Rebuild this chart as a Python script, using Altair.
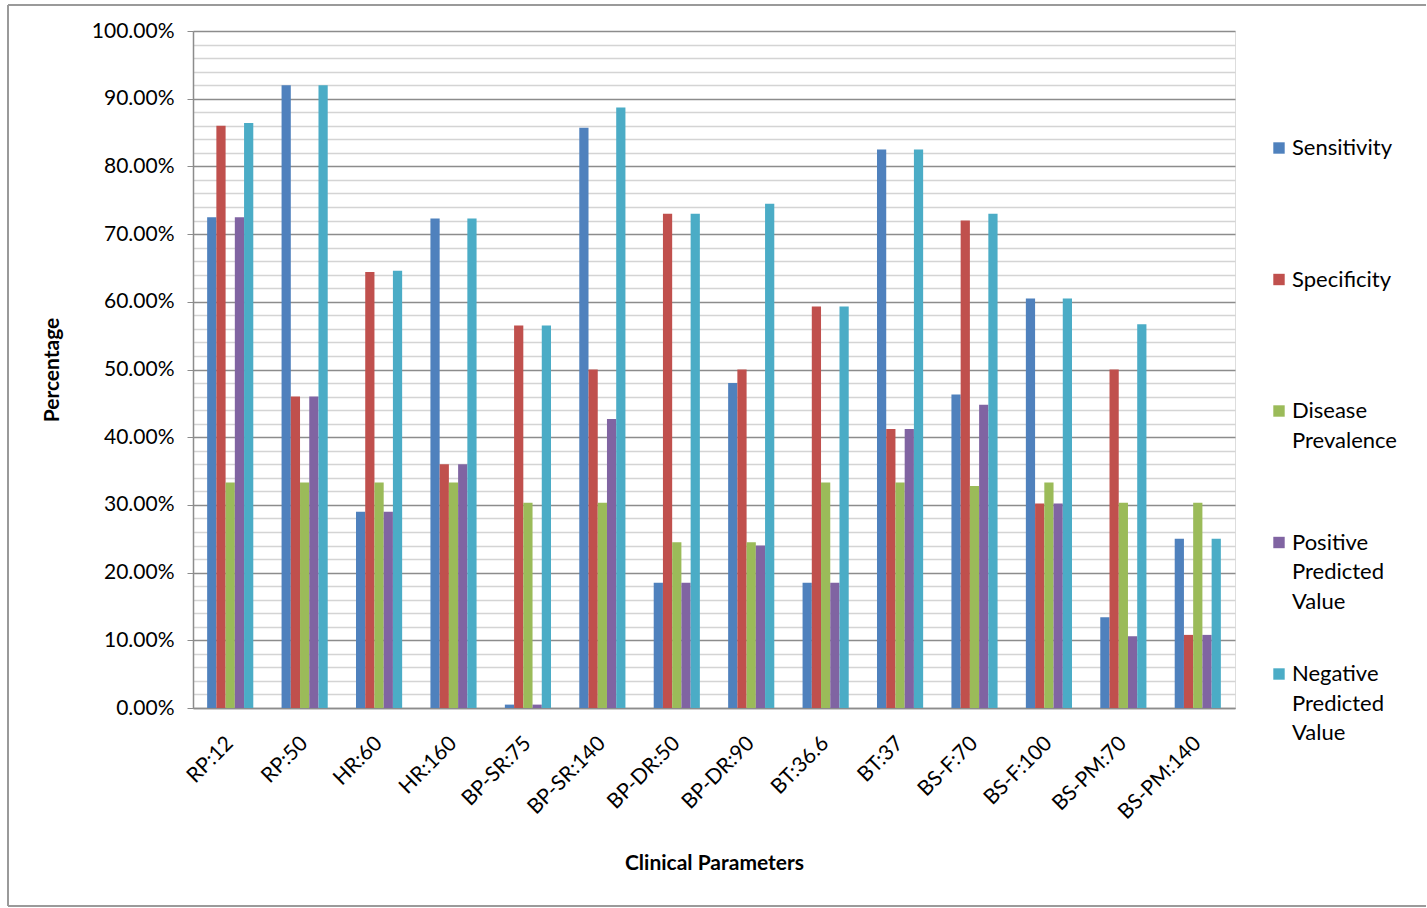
import altair as alt
import pandas as pd

categories = ["RP:12", "RP:50", "HR:60", "HR:160", "BP-SR:75", "BP-SR:140", "BP-DR:50",
              "BP-DR:90", "BT:36.6", "BT:37", "BS-F:70", "BS-F:100", "BS-PM:70", "BS-PM:140"]
series = ["Sensitivity", "Specificity", "Disease Prevalence",
          "Positive Predicted Value", "Negative Predicted Value"]
legend_lines = [["Sensitivity"], ["Specificity"], ["Disease", "Prevalence"],
                ["Positive", "Predicted", "Value"], ["Negative", "Predicted", "Value"]]
colors = ["#4F81BD", "#C0504D", "#9BBB59", "#8064A2", "#4BACC6"]

sensitivity = [72.5, 92.0, 29.0, 72.3, 0.5, 85.7, 18.5, 48.0, 18.5, 82.5, 46.3, 60.5, 13.4, 25.0]
specificity = [86.0, 46.0, 64.4, 36.0, 56.5, 50.0, 73.0, 50.0, 59.3, 41.2, 72.0, 30.2, 50.0, 10.8]
prevalence = [33.3, 33.3, 33.3, 33.3, 30.3, 30.3, 24.5, 24.5, 33.3, 33.3, 32.8, 33.3, 30.3, 30.3]
ppv = [72.5, 46.0, 29.0, 36.0, 0.5, 42.7, 18.5, 24.0, 18.5, 41.2, 44.8, 30.2, 10.6, 10.8]
npv = [86.4, 92.0, 64.6, 72.3, 56.5, 88.7, 73.0, 74.5, 59.3, 82.5, 73.0, 60.5, 56.7, 25.0]

all_values = [sensitivity, specificity, prevalence, ppv, npv]
rows = []
for s, vals in zip(series, all_values):
    for c, v in zip(categories, vals):
        rows.append({"category": c, "series": s, "value": v})
df = pd.DataFrame(rows)

leg = pd.DataFrame({"series": series, "label": legend_lines})

FONT = "Lato"
W, H = 1042, 677

color_scale = alt.Scale(domain=series, range=colors)

bars = alt.Chart(df).mark_bar().encode(
    x=alt.X("category:N", sort=categories,
            scale=alt.Scale(paddingInner=0.38, paddingOuter=0.19),
            axis=alt.Axis(title="Clinical Parameters", labelAngle=-45, labelAlign="right",
                          labelBaseline="middle", labelPadding=32, ticks=False,
                          domainColor="#8c8c8c", domainWidth=1.5, grid=False,
                          labelFontSize=21, labelColor="#000",
                          titleFontSize=21, titleFontWeight="bold", titlePadding=30,
                          titleColor="#000")),
    xOffset=alt.XOffset("series:N", sort=series),
    y=alt.Y("value:Q", scale=alt.Scale(domain=[0, 100], nice=False),
            axis=alt.Axis(title="Percentage", values=list(range(0, 101, 2)),
                          labelExpr="datum.value % 10 === 0 ? format(datum.value, '.2f') + '%' : ''",
                          tickSize=6, labelPadding=13,
                          tickOpacity={"condition": {"test": "datum.value % 10 === 0", "value": 1}, "value": 0},
                          tickColor="#8c8c8c",
                          gridColor={"condition": {"test": "datum.value % 10 === 0", "value": "#8c8c8c"}, "value": "#d4d4d4"},
                          gridWidth=1.5,
                          domainColor="#8c8c8c", domainWidth=1.5,
                          labelFontSize=21, labelColor="#000",
                          titleFontSize=21, titleFontWeight="bold", titlePadding=29,
                          titleColor="#000")),
    color=alt.Color("series:N", scale=color_scale, legend=None),
)

leg_y = alt.Y("series:N", sort=series, axis=None,
              scale=alt.Scale(type="point", range=[117, 643], padding=0))

leg_sq = alt.Chart(leg).mark_square(size=130, opacity=1).encode(
    x=alt.value(1086), y=leg_y,
    color=alt.Color("series:N", scale=color_scale, legend=None))

leg_txt = alt.Chart(leg).mark_text(align="left", baseline="top", dy=-10, fontSize=22,
                                   lineHeight=29.5, font=FONT, color="#000").encode(
    x=alt.value(1099), y=leg_y, text="label")

frame_data = alt.Data(values=[{"k": 1}])
frame_left = alt.Chart(frame_data).mark_rule(color="#9a9a9a", strokeWidth=2).encode(
    x=alt.value(-185), y=alt.value(-26), y2=alt.value(875))
frame_top = alt.Chart(frame_data).mark_rule(color="#9a9a9a", strokeWidth=2).encode(
    x=alt.value(-185), x2=alt.value(1233), y=alt.value(-26))
frame_bottom = alt.Chart(frame_data).mark_rule(color="#9a9a9a", strokeWidth=2).encode(
    x=alt.value(-185), x2=alt.value(1233), y=alt.value(875))

chart = alt.layer(frame_left, frame_top, frame_bottom, bars, leg_sq, leg_txt).resolve_scale(
    y="independent"
).properties(
    width=W, height=H,
    padding={"left": 7, "top": 4, "right": 0, "bottom": 0},
).configure_view(stroke=None).configure(font=FONT, background="white")

chart.save("out.html", embed_options={"renderer": "svg", "actions": False})
